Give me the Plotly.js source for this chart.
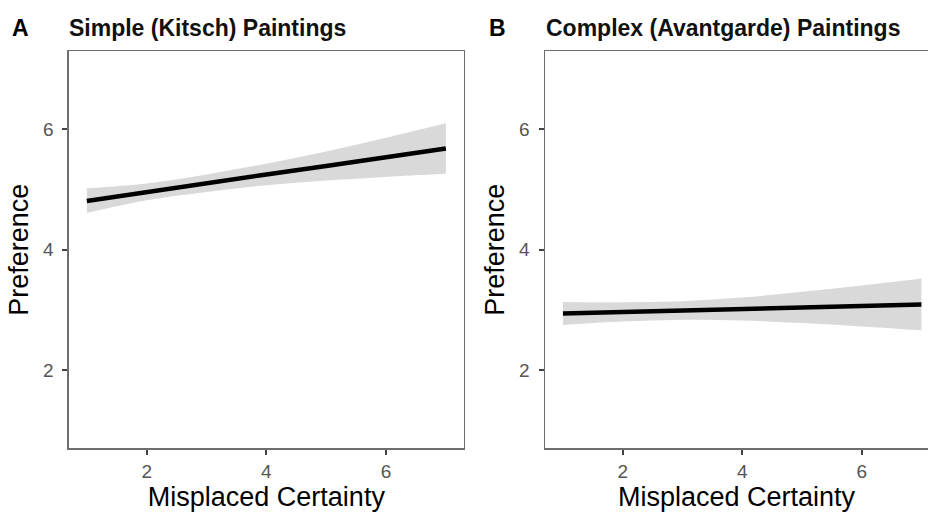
<!DOCTYPE html>
<html>
<head>
<meta charset="utf-8">
<script src="https://cdn.plot.ly/plotly-3.0.1.min.js"></script>
<style>html,body{margin:0;padding:0;background:#fff}#chart{width:928px;height:512px}</style>
</head>
<body>
<div id="chart"></div>
<script>
// Data
const xVals = [1, 2, 3, 4, 5, 6, 7];
const fitA = [4.81, 4.96, 5.10, 5.25, 5.39, 5.54, 5.68];
const loA  = [4.61, 4.82, 4.96, 5.07, 5.15, 5.21, 5.26];
const hiA  = [5.02, 5.10, 5.25, 5.43, 5.63, 5.86, 6.10];
const fitB = [2.94, 2.965, 2.99, 3.015, 3.04, 3.065, 3.09];
const loB  = [2.75, 2.805, 2.835, 2.825, 2.78, 2.725, 2.66];
const hiB  = [3.13, 3.125, 3.145, 3.205, 3.30, 3.405, 3.52];
const xTicks = [2, 4, 6];
const yTicks = [2, 4, 6];
const panelTitles = ["Simple (Kitsch) Paintings", "Complex (Avantgarde) Paintings"];
const panelTags = ["A", "B"];
const xTitle = "Misplaced Certainty";
const yTitle = "Preference";

const ribbon = '#d9d9d9';
function panel(lo, hi, fit, xa, ya) {
  return [
    {x: xVals, y: lo, xaxis: xa, yaxis: ya, mode: 'lines', line: {width: 0, shape: 'spline', color: ribbon}, hoverinfo: 'skip', showlegend: false},
    {x: xVals, y: hi, xaxis: xa, yaxis: ya, mode: 'lines', fill: 'tonexty', fillcolor: ribbon, line: {width: 0, shape: 'spline', color: ribbon}, hoverinfo: 'skip', showlegend: false},
    {x: xVals, y: fit, xaxis: xa, yaxis: ya, mode: 'lines', line: {width: 4.5, color: '#000000'}, showlegend: false}
  ];
}
const data = [].concat(panel(loA, hiA, fitA, 'x', 'y'), panel(loB, hiB, fitB, 'x2', 'y2'));

const W = 928, H = 512;
const font = 'Liberation Sans, Arial, sans-serif';
const tickFont = {family: font, size: 19, color: '#555555'};
const titleFont = {family: font, size: 27, color: '#000000'};
const lineCol = '#6e6e6e';
function xax(domain, range, mirror, anchor) {
  return {domain: domain, range: range, anchor: anchor, tickvals: xTicks, ticktext: xTicks.map(String),
    ticks: 'outside', ticklen: 5, tickwidth: 2, tickcolor: '#444', tickfont: tickFont,
    showline: true, linecolor: lineCol, linewidth: 1.5, mirror: mirror, showgrid: false, zeroline: false,
    automargin: false, title: {text: xTitle, font: titleFont, standoff: 5}};
}
function yax(domain, anchor, mirror) {
  return {domain: domain, range: [0.7, 7.3], anchor: anchor, tickvals: yTicks, ticktext: yTicks.map(String),
    ticks: 'outside', ticklen: 5, tickwidth: 2, tickcolor: '#444', tickfont: tickFont, ticklabelstandoff: 5,
    showline: true, linecolor: lineCol, linewidth: 1.5, mirror: mirror, showgrid: false, zeroline: false,
    automargin: false, title: {text: yTitle, font: titleFont, standoff: 6}};
}
const yDom = [1 - 448.3 / H, 1 - 51.1 / H];
const layout = {
  width: W, height: H,
  margin: {l: 0, r: 0, t: 0, b: 0},
  paper_bgcolor: '#ffffff', plot_bgcolor: '#ffffff',
  xaxis: xax([68.9 / W, 463.8 / W], [0.7, 7.3], true, 'y'),
  yaxis: yax(yDom, 'x', true),
  xaxis2: xax([545.0 / W, 1], [0.7, 7.11], true, 'y2'),
  yaxis2: yax(yDom, 'x2', false),
  annotations: [
    {text: '<b>' + panelTags[0] + '</b>', x: 10 / W, y: 1 - 28 / H, xref: 'paper', yref: 'paper', xanchor: 'left', yanchor: 'middle', showarrow: false, font: {family: font, size: 23, color: '#000'}},
    {text: '<b>' + panelTitles[0] + '</b>', x: 67 / W, y: 1 - 28 / H, xref: 'paper', yref: 'paper', xanchor: 'left', yanchor: 'middle', showarrow: false, font: {family: font, size: 23, color: '#111'}},
    {text: '<b>' + panelTags[1] + '</b>', x: 487 / W, y: 1 - 28 / H, xref: 'paper', yref: 'paper', xanchor: 'left', yanchor: 'middle', showarrow: false, font: {family: font, size: 23, color: '#000'}},
    {text: '<b>' + panelTitles[1] + '</b>', x: 544 / W, y: 1 - 28 / H, xref: 'paper', yref: 'paper', xanchor: 'left', yanchor: 'middle', showarrow: false, font: {family: font, size: 23, color: '#111'}}
  ]
};
Plotly.newPlot('chart', data, layout, {displayModeBar: false, staticPlot: true});
</script>
</body>
</html>
